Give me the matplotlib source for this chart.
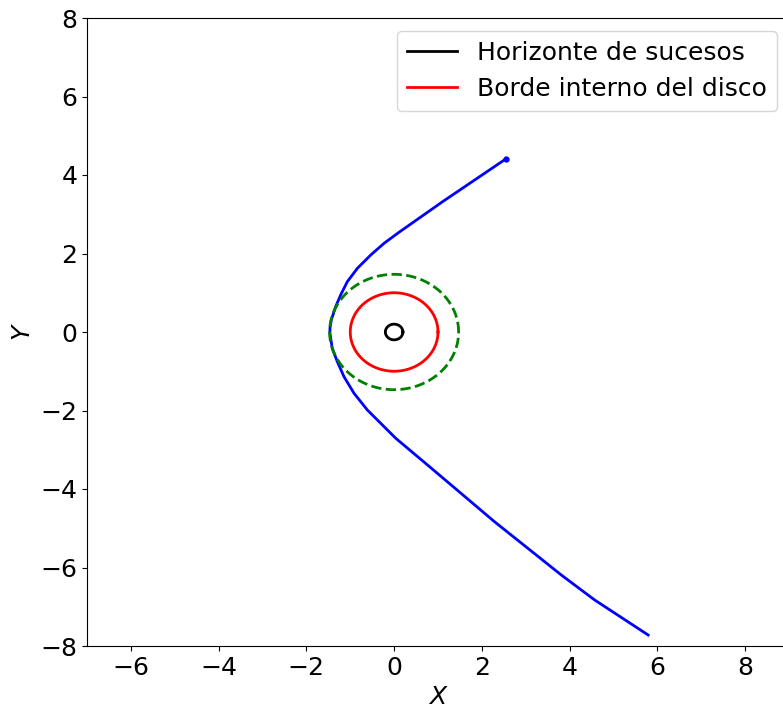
import numpy as np
import matplotlib.pyplot as plt

tray_x = [2.553, 1.104, 0.114, -0.229, -0.533, -0.838, -1.067, -1.219,
          -1.333, -1.432, -1.463, -1.463, -1.410, -1.295, -1.143, -0.914,
          -0.610, -0.305, 0.038, 0.762, 1.524, 2.286, 3.048, 3.810, 4.571,
          5.790]
tray_y = [4.415, 3.320, 2.543, 2.260, 1.962, 1.622, 1.282, 0.943,
          0.645, 0.306, 0.093, -0.034, -0.416, -0.756, -1.138, -1.562,
          -1.987, -2.327, -2.709, -3.389, -4.110, -4.832, -5.511, -6.191,
          -6.828, -7.720]

r_horizonte = 0.2   # horizonte de sucesos
r_disco = 1.0       # borde interno del disco
r_foton = 1.47      # circulo discontinuo

xlim = (-7, 9)
ylim = (-8, 8)
xticks = [-6, -4, -2, 0, 2, 4, 6, 8]
yticks = [-8, -6, -4, -2, 0, 2, 4, 6, 8]

fig = plt.figure(figsize=(7.83, 7.10), dpi=100)
ax = fig.add_axes([87/783, 64/710, 702/783, 628/710])

th = np.linspace(0, 2*np.pi, 400)

ax.plot(tray_x, tray_y, 'b-', lw=2)
ax.plot(tray_x[0], tray_y[0], 'bo', ms=3.5)
ax.plot(r_horizonte*np.cos(th), r_horizonte*np.sin(th), 'k-', lw=2,
        label='Horizonte de sucesos')
ax.plot(r_disco*np.cos(th), r_disco*np.sin(th), 'r-', lw=2,
        label='Borde interno del disco')
ax.plot(r_foton*np.cos(th), r_foton*np.sin(th), 'g--', lw=2)

ax.set_xlim(xlim)
ax.set_ylim(ylim)
ax.set_xticks(xticks)
ax.set_yticks(yticks)
ax.tick_params(labelsize=18)
ax.set_xlabel(r'$X$', fontsize=18)
ax.set_ylabel(r'$Y$', fontsize=18)
ax.legend(loc='upper right', fontsize=18)

fig.savefig('out.png', dpi=100)
